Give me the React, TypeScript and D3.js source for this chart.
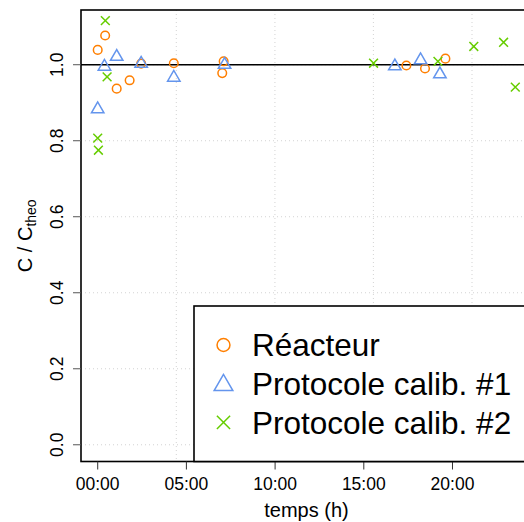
import { useEffect, useRef } from 'react';
import * as d3 from 'd3';

// ── Data (hours since start, C / C_theo) ──
const reacteurT = [0.0, 0.42, 1.07, 1.8, 2.45, 4.29, 7.02, 7.1, 17.4, 18.45, 19.6];
const reacteurY = [1.039, 1.077, 0.937, 0.959, 1.003, 1.004, 0.978, 1.009, 0.998, 0.99, 1.016];

const calib1T = [0.0, 0.38, 1.07, 2.45, 4.29, 7.15, 16.75, 18.2, 19.29];
const calib1Y = [0.883, 0.995, 1.021, 1.003, 0.966, 1.0, 0.996, 1.012, 0.975];

const calib2T = [0.0, 0.04, 0.43, 0.53, 15.55, 19.18, 21.2, 22.88, 23.54];
const calib2Y = [0.807, 0.775, 1.116, 0.968, 1.004, 1.009, 1.048, 1.059, 0.941];

const xTicks = [0, 5, 10, 15, 20];
const xTickLabels = ['00:00', '05:00', '10:00', '15:00', '20:00'];
const xGrid = [4.43, 9.99, 15.54, 21.1];
const yTicks = [0, 0.2, 0.4, 0.6, 0.8, 1.0];
const yLim = [0, 1.1];

const seriesNames = ['Réacteur', 'Protocole calib. #1', 'Protocole calib. #2'];
const seriesColors = ['#FF7F00', '#6495ED', '#66CD00'];

const W = 524;
const H = 522;
const FONT = '"Liberation Sans", Arial, Helvetica, sans-serif';

type Shape = 'circle' | 'triangle' | 'cross';

function drawMark(g: d3.Selection<SVGGElement, unknown, null, undefined>, shape: Shape, x: number, y: number, color: string, s: number) {
  if (shape === 'circle') {
    g.append('circle').attr('cx', x).attr('cy', y).attr('r', 4.3 * s)
      .attr('fill', 'none').attr('stroke', color).attr('stroke-width', 1.5);
  } else if (shape === 'triangle') {
    const r = 7.2 * s;
    const pts = [[x, y - r], [x - r * 0.866, y + r / 2], [x + r * 0.866, y + r / 2]];
    g.append('polygon').attr('points', pts.map(p => p.join(',')).join(' '))
      .attr('fill', 'none').attr('stroke', color).attr('stroke-width', 1.5);
  } else {
    const h = 4.4 * s;
    g.append('path').attr('d', `M${x - h},${y - h}L${x + h},${y + h}M${x - h},${y + h}L${x + h},${y - h}`)
      .attr('fill', 'none').attr('stroke', color).attr('stroke-width', 1.5);
  }
}

export default function App() {
  const svgRef = useRef<SVGSVGElement>(null);

  useEffect(() => {
    const svgEl = svgRef.current;
    if (!svgEl) return;
    const svg = d3.select(svgEl);
    svg.selectAll('*').remove();

    const left = 81, right = 532, top = 10, bottom = 461.5;

    // R-style 4% axis extension
    const allT = [...reacteurT, ...calib1T, ...calib2T];
    const [tMin, tMax] = d3.extent(allT) as [number, number];
    const tPad = (tMax - tMin) * 0.04;
    const yPad = (yLim[1] - yLim[0]) * 0.04;

    const x = d3.scaleLinear().domain([tMin - tPad, tMax + tPad]).range([left, right]);
    const y = d3.scaleLinear().domain([yLim[0] - yPad, yLim[1] + yPad]).range([bottom, top]);

    const g = svg.append('g');

    // grid
    xGrid.forEach(t => {
      g.append('line').attr('x1', x(t)).attr('x2', x(t)).attr('y1', top).attr('y2', bottom)
        .attr('stroke', '#d3d3d3').attr('stroke-width', 1).attr('stroke-dasharray', '1,3');
    });
    yTicks.forEach(v => {
      g.append('line').attr('x1', left).attr('x2', right).attr('y1', y(v)).attr('y2', y(v))
        .attr('stroke', '#d3d3d3').attr('stroke-width', 1).attr('stroke-dasharray', '1,3');
    });

    // reference line at 1
    g.append('line').attr('x1', left).attr('x2', right).attr('y1', y(1)).attr('y2', y(1))
      .attr('stroke', '#000').attr('stroke-width', 1.6);

    // points
    const series: { t: number[]; v: number[]; shape: Shape }[] = [
      { t: reacteurT, v: reacteurY, shape: 'circle' },
      { t: calib1T, v: calib1Y, shape: 'triangle' },
      { t: calib2T, v: calib2Y, shape: 'cross' },
    ];
    series.forEach((s, i) => {
      s.t.forEach((t, j) => drawMark(g, s.shape, x(t), y(s.v[j]), seriesColors[i], 1));
    });

    // box
    g.append('rect').attr('x', left).attr('y', top).attr('width', right - left).attr('height', bottom - top)
      .attr('fill', 'none').attr('stroke', '#000').attr('stroke-width', 1.6);

    // x axis
    xTicks.forEach((t, i) => {
      g.append('line').attr('x1', x(t)).attr('x2', x(t)).attr('y1', bottom).attr('y2', bottom + 8)
        .attr('stroke', '#333').attr('stroke-width', 1);
      g.append('text').attr('x', x(t)).attr('y', 490).attr('text-anchor', 'middle')
        .attr('font-family', FONT).attr('font-size', 17.5).attr('fill', '#000')
        .text(xTickLabels[i]);
    });
    g.append('text').attr('x', (left + right) / 2).attr('y', 517).attr('text-anchor', 'middle')
      .attr('font-family', FONT).attr('font-size', 20).attr('fill', '#000').text('temps (h)');

    // y axis
    yTicks.forEach(v => {
      g.append('line').attr('x1', left - 8).attr('x2', left).attr('y1', y(v)).attr('y2', y(v))
        .attr('stroke', '#555').attr('stroke-width', 1);
      g.append('text').attr('transform', `translate(63,${y(v)}) rotate(-90)`).attr('text-anchor', 'middle')
        .attr('font-family', FONT).attr('font-size', 17.5).attr('fill', '#000')
        .text(v.toFixed(1));
    });
    const yt = g.append('text').attr('transform', `translate(32,${(top + bottom) / 2}) rotate(-90)`)
      .attr('text-anchor', 'middle').attr('font-family', FONT).attr('font-size', 20).attr('fill', '#000');
    yt.append('tspan').text('C / C');
    yt.append('tspan').attr('font-size', 14).attr('dy', 4).text('theo');

    // legend
    const lx = 194, ly = 306;
    g.append('rect').attr('x', lx).attr('y', ly).attr('width', 400).attr('height', bottom - ly)
      .attr('fill', '#fff').attr('stroke', '#000').attr('stroke-width', 1.6);
    const shapes: Shape[] = ['circle', 'triangle', 'cross'];
    seriesNames.forEach((name, i) => {
      const cy = 345 + i * 38.7;
      drawMark(g, shapes[i], 223.5, cy + (i === 1 ? 1.5 : 0), seriesColors[i], 1.5);
      g.append('text').attr('x', 252).attr('y', cy + 11.3)
        .attr('font-family', FONT).attr('font-size', 31.5).attr('fill', '#000').text(name);
    });
  }, []);

  return (
    <svg ref={svgRef} width={W} height={H}
      style={{ position: 'absolute', left: 0, top: 0, display: 'block', background: '#fff' }} />
  );
}
